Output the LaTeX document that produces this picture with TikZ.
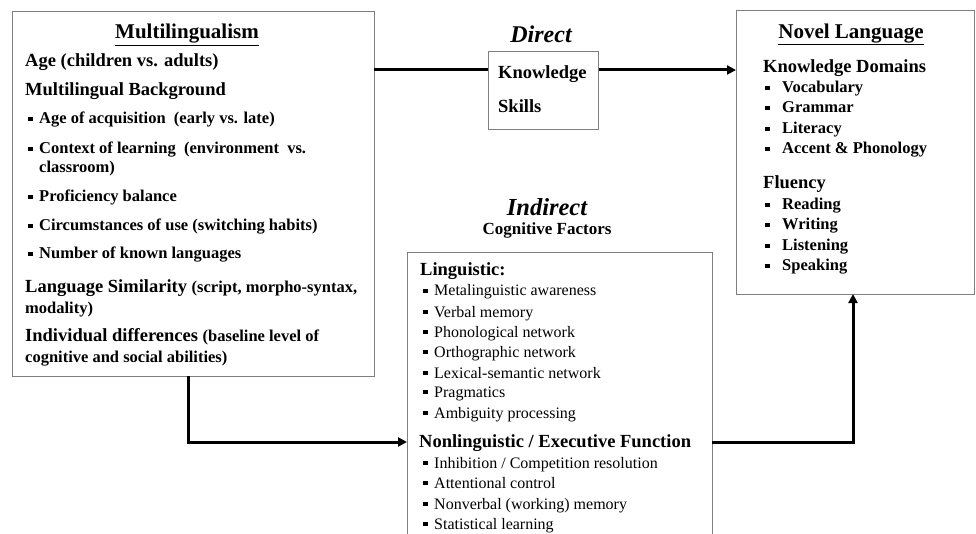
\documentclass[tikz,border=0pt]{standalone}
\usepackage{fontspec}
\setmainfont{Liberation Serif}
\usetikzlibrary{arrows.meta}
\definecolor{boxgray}{HTML}{7F7F7F}
\newcommand\sqb{\rule[0.18em]{0.27em}{0.27em}}
\newcommand\fT{\fontsize{21}{24}\selectfont\bfseries}
\newcommand\fH{\fontsize{18.5}{22}\selectfont\bfseries}
\newcommand\fI{\fontsize{16.5}{20}\selectfont\bfseries}
\newcommand\fR{\fontsize{16}{19}\selectfont}
\begin{document}
\begin{tikzpicture}[x=1pt,y=-1pt,
  box/.style={draw=boxgray,line width=1.3pt,anchor=north west,inner sep=0pt},
  txt/.style={anchor=base west,inner sep=0pt},
  ctr/.style={anchor=base,inner sep=0pt},
  conn/.style={line width=3pt,black},
  tip/.style={-{Triangle[length=9pt,width=9pt]}}]
\useasboundingbox (0,0) rectangle (976,534);
\fill[white] (0,0) rectangle (976,534);

% boxes
\node[box,minimum width=362pt,minimum height=365pt] (mbox) at (12,11) {};
\node[box,minimum width=110pt,minimum height=78pt] (dbox) at (488,51) {};
\node[box,minimum width=238pt,minimum height=284pt] (nbox) at (736,10) {};
\node[box,minimum width=305pt,minimum height=308pt] (ibox) at (407,252) {};

% Multilingualism box
\node[ctr] (mt) at (187,39) {\fT\underline{Multilingualism}};
\node[txt] (m1) at (25,66.5) {\fH Age (children vs. adults)};
\node[txt] (m2) at (25,95.5) {\fH Multilingual Background};
\node[txt] (m3) at (28,124) {\fI\makebox[11pt][l]{\sqb}Age of acquisition\ \ (early vs. late)};
\node[txt] (m4) at (28,154) {\fI\makebox[11pt][l]{\sqb}Context of learning\ \ (environment\ \ vs.};
\node[txt] (m5) at (39,173) {\fI classroom)};
\node[txt] (m6) at (28,202) {\fI\makebox[11pt][l]{\sqb}Proficiency balance};
\node[txt] (m7) at (28,231) {\fI\makebox[11pt][l]{\sqb}Circumstances\ of use (switching\ habits)};
\node[txt] (m8) at (28,259) {\fI\makebox[11pt][l]{\sqb}Number\ of known\ languages};
\node[txt] (m9) at (25,292.5) {\fH Language Similarity {\fI (script,\ morpho-syntax,}};
\node[txt] (m10) at (25,313) {\fI modality)};
\node[txt] (m11) at (25,341.5) {\fH Individual differences {\fI (baseline level of}};
\node[txt] (m12) at (25,362) {\fI cognitive and social abilities)};

% Direct
\node[ctr] (dt) at (541,43) {\fontsize{24}{26}\selectfont\bfseries\itshape Direct};
\node[txt] (d1) at (498,78.5) {\fH Knowledge};
\node[txt] (d2) at (498,113) {\fH Skills};

% Novel Language box
\node[ctr] (nt) at (851,38.5) {\fT\underline{Novel Language}};
\node[txt] (n1) at (763,72.5) {\fH Knowledge Domains};
\node[txt] (n2) at (765,93) {\fI\makebox[17pt][l]{\sqb}Vocabulary};
\node[txt] (n3) at (765,113) {\fI\makebox[17pt][l]{\sqb}Grammar};
\node[txt] (n4) at (765,134) {\fI\makebox[17pt][l]{\sqb}Literacy};
\node[txt] (n5) at (765,154) {\fI\makebox[17pt][l]{\sqb}Accent \& Phonology};
\node[txt] (n6) at (763,188.5) {\fH Fluency};
\node[txt] (n7) at (765,210) {\fI\makebox[17pt][l]{\sqb}Reading};
\node[txt] (n8) at (765,230) {\fI\makebox[17pt][l]{\sqb}Writing};
\node[txt] (n9) at (765,251) {\fI\makebox[17pt][l]{\sqb}Listening};
\node[txt] (n10) at (765,271) {\fI\makebox[17pt][l]{\sqb}Speaking};

% Indirect
\node[ctr] (it) at (547,215.5) {\fontsize{24.5}{27}\selectfont\bfseries\itshape Indirect};
\node[ctr] (ic) at (547,235) {\fontsize{17}{20}\selectfont\bfseries Cognitive Factors};
\node[txt] (i1) at (420,275.5) {\fH Linguistic:};
\node[txt] (i2) at (423,296) {\fR\makebox[11pt][l]{\sqb}Metalinguistic\ awareness};
\node[txt] (i3) at (423,317) {\fR\makebox[11pt][l]{\sqb}Verbal memory};
\node[txt] (i4) at (423,337) {\fR\makebox[11pt][l]{\sqb}Phonological network};
\node[txt] (i5) at (423,357) {\fR\makebox[11pt][l]{\sqb}Orthographic\ network};
\node[txt] (i6) at (423,378) {\fR\makebox[11pt][l]{\sqb}Lexical-semantic\ network};
\node[txt] (i7) at (423,397) {\fR\makebox[11pt][l]{\sqb}Pragmatics};
\node[txt] (i8) at (423,418) {\fR\makebox[11pt][l]{\sqb}Ambiguity\ processing};
\node[txt] (i9) at (419,447.5) {\fH Nonlinguistic / Executive Function};
\node[txt] (i10) at (423,468) {\fR\makebox[11pt][l]{\sqb}Inhibition\ / Competition resolution};
\node[txt] (i11) at (423,488) {\fR\makebox[11pt][l]{\sqb}Attentional\ control};
\node[txt] (i12) at (423,509) {\fR\makebox[11pt][l]{\sqb}Nonverbal (working)\ memory};
\node[txt] (i13) at (423,529) {\fR\makebox[11pt][l]{\sqb}Statistical\ learning};

% connectors
\coordinate (mOut) at (374,70);
\draw[conn] (mOut) -- (mOut -| dbox.west);
\draw[conn,tip] (dbox.east |- mOut) -- (nbox.west |- mOut);
\coordinate (mDown) at (188,376);
\coordinate (iIn) at (407,442);
\draw[conn,tip] (mDown) |- (iIn);
\coordinate (iOut) at (712,442);
\coordinate (nIn) at (853,294);
\draw[conn,tip] (iOut) -| (nIn);
\end{tikzpicture}
\end{document}
